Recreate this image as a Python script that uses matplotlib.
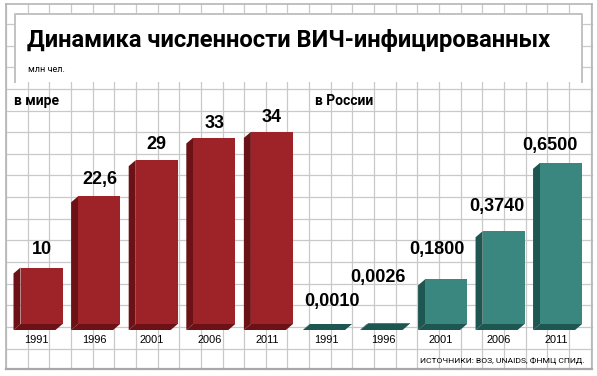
import matplotlib
matplotlib.use("Agg")
import matplotlib.pyplot as plt
from matplotlib.patches import Polygon, Rectangle

# data
years = ["1991", "1996", "2001", "2006", "2011"]
world = [10, 22.6, 29, 33, 34]
world_labels = ["10", "22,6", "29", "33", "34"]
russia = [0.0010, 0.0026, 0.1800, 0.3740, 0.6500]
russia_labels = ["0,0010", "0,0026", "0,1800", "0,3740", "0,6500"]

W, H = 597, 376
fig = plt.figure(figsize=(W / 100, H / 100), dpi=100)
fig.patch.set_facecolor("white")

# background: squared paper + title box (pixel coords)
bg = fig.add_axes([0, 0, 1, 1])
bg.set_xlim(0, W)
bg.set_ylim(H, 0)
bg.axis("off")

step = 21.65
gcol = "#c9c9c9"
for k in range(28):
    x = 6 + step * k
    bg.plot([x, x], [3.5, 369], color=gcol, lw=0.9, zorder=1)
for k in range(-1, 15):
    y = 327 - step * k
    bg.plot([6, 592], [y, y], color=gcol, lw=0.9, zorder=1)
# border
bg.plot([6, 6], [3.5, 369], color="#b5b5b5", lw=1.2, zorder=2)
bg.plot([592, 592], [3.5, 369], color="#b5b5b5", lw=1.2, zorder=2)
bg.plot([6, 592], [369, 369], color="#a8a8a8", lw=1.6, zorder=2)
bg.plot([6, 592], [3.5, 3.5], color="#b5b5b5", lw=1.2, zorder=2)

bg.add_patch(Rectangle((15, 14), 567, 68, facecolor="white", edgecolor="none", zorder=3))
bg.plot([15, 15, 582, 582], [82, 14, 14, 82], color="#c2c2c2", lw=1.4, zorder=4)

bg.text(27, 40, "Динамика численности ВИЧ-инфицированных", fontsize=17.1,
        fontweight="bold", family="Roboto", va="center", ha="left", zorder=5)
bg.text(28, 70, "млн чел.", fontsize=6.5, family="Roboto", va="center", ha="left", zorder=5)
bg.text(14, 101, "в мире", fontsize=10, fontweight="bold", family="Roboto",
        va="center", ha="left", zorder=5)
bg.text(315, 101, "в России", fontsize=10, fontweight="bold", family="Roboto",
        va="center", ha="left", zorder=5)
bg.text(585, 361, "ИСТОЧНИКИ: ВОЗ, UNAIDS, ФНМЦ СПИД.", fontsize=6.1, family="Roboto",
        va="center", ha="right", zorder=5)


def panel(left_px, pitch, scale, values, labels, front, dark, lifts, shifts):
    base_px = 324
    top_px = 100
    ax = fig.add_axes([left_px / W, (H - base_px) / H, 5 * pitch / W, (base_px - top_px) / H])
    ax.set_xlim(-0.5, 4.5)
    ax.set_ylim(0, (base_px - top_px) / scale)
    ax.axis("off")
    ax.patch.set_alpha(0)
    bw = 42 / pitch
    dx = 7 / pitch
    dy = 6 / scale
    x = range(len(values))
    bars = ax.bar(x, values, width=bw, color=front, zorder=3, clip_on=False)
    for i, b in enumerate(bars):
        x0 = b.get_x()
        x1 = x0 + b.get_width()
        h = b.get_height()
        side = Polygon([(x0, 0), (x0, h), (x0 - dx, h - dy), (x0 - dx, -dy)],
                       closed=True, facecolor=dark, edgecolor="none", zorder=2, clip_on=False)
        bottom = Polygon([(x0, 0), (x1, 0), (x1 - dx, -dy), (x0 - dx, -dy)],
                         closed=True, facecolor=dark, edgecolor="none", zorder=2, clip_on=False)
        ax.add_patch(side)
        ax.add_patch(bottom)
        ax.annotate(labels[i], (b.get_x() + b.get_width() / 2, h),
                    xytext=(shifts[i] * 0.72, lifts[i] * 0.72),
                    textcoords="offset points", ha="center", va="center", fontsize=13,
                    fontweight="bold", family="Liberation Sans", annotation_clip=False, zorder=5)
        ax.annotate(years[i], (b.get_x() + b.get_width() / 2, 0), xytext=(-5 * 0.72, -16 * 0.72),
                    textcoords="offset points", ha="center", va="center", fontsize=7.9,
                    family="Liberation Sans", annotation_clip=False, zorder=5)
    return ax


panel(12.7, 57.6, 5.65, world, world_labels, "#9d2329", "#6c1217",
      [18, 17, 16, 14, 14], [0, 1, 0, 0, 0])
panel(302.3, 57.5, 248, russia, russia_labels, "#3a8780", "#1e5651",
      [22, 46, 30, 25, 17], [1, -11, -9, -7, -11])

fig.savefig("out.png", dpi=100)
